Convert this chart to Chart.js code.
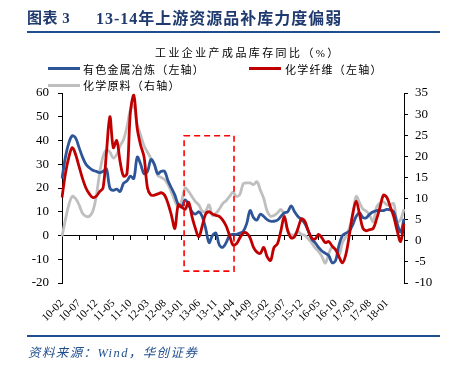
<!DOCTYPE html>
<html>
<head>
<meta charset="utf-8">
<script src="https://cdn.jsdelivr.net/npm/chart.js@4.4.1/dist/chart.umd.min.js"></script>
<style>
  body { margin: 0; background: #fff; }
  #wrap { position: relative; width: 455px; height: 365px; overflow: hidden; }
  #chart { position: absolute; left: 0; top: 0; }
  .txt { position: absolute; white-space: nowrap; font-family: "Liberation Serif", "Noto Sans CJK SC", serif; }
  .rule { position: absolute; left: 27px; width: 413px; background: #1F4E8C; }
  .swatch { position: absolute; width: 32px; height: 3px; }
</style>
</head>
<body>
<div id="wrap">
  <canvas id="chart" width="455" height="365"></canvas>
  <div class="txt" style="left:27px;top:6px;font-size:15px;font-weight:bold;color:#1F3A6E;letter-spacing:0.5px;">图表 3</div>
  <div class="txt" style="left:96px;top:5px;font-size:16px;font-weight:bold;color:#1F3A6E;letter-spacing:1px;">13-14年上游资源品补库力度偏弱</div>
  <div class="rule" style="top:31px;height:2px;"></div>
  <div class="txt" style="left:155px;top:44px;font-size:11px;letter-spacing:2.4px;color:#000;">工业企业产成品库存同比（%）</div>
  <div class="swatch" style="left:48px;top:67px;background:#2E5597;"></div>
  <div class="txt" style="left:83px;top:61px;font-size:11px;letter-spacing:1.2px;">有色金属冶炼（左轴）</div>
  <div class="swatch" style="left:249px;top:67px;background:#C00000;"></div>
  <div class="txt" style="left:285px;top:61px;font-size:11px;letter-spacing:1.2px;">化学纤维（左轴）</div>
  <div class="swatch" style="left:48px;top:84px;background:#BFBFBF;"></div>
  <div class="txt" style="left:83px;top:77px;font-size:11px;letter-spacing:1.2px;">化学原料（右轴）</div>
  <div class="rule" style="top:335px;height:1.5px;"></div>
  <div class="txt" style="left:28px;top:342px;font-size:12.5px;font-style:italic;color:#1F4E8C;letter-spacing:1.4px;">资料来源：Wind，华创证券</div>
</div>
<script>
// monthly categories, 2010-02 .. 2018-06
const months = [];
for (let i = 0; i < 101; i++) {
  const d = new Date(2010, 1 + i, 1);
  months.push(String(d.getFullYear()).slice(2) + '-' + String(d.getMonth() + 1).padStart(2, '0'));
}

// 有色金属冶炼 (left axis)
const metals = [24, 33, 39, 42, 41, 37, 33, 30, 28.5, 27.5, 27, 26.5, 27, 28, 20, 19, 19.5, 18.5, 22, 23,
  25, 24, 33, 30, 26, 27, 32, 30, 26, 27, 27, 23, 20, 17, 13, 12, 15, 13, 10, 9,
  10, 8, 3, -3, 0, 1, -4, -5, -3, 0,
  0.5, 0.5, 1, 1.8, 5, 10.5, 7.5, 6.5, 9, 8, 6.7, 6, 6, 6.5, 8, 9.5, 10, 12.5, 10, 8,
  6.7, 5, 2, -1.5, -3, -5, -6.5, -7.5, -8.5, -11.5, -10.5, -4, 0, 1, 1.8, 4.5, 8, 9.5, 7.5, 7.5,
  9, 10, 10.5, 10.5, 10.5, 11, 10.8, 10, 5, 1.5, 7];

// 化学纤维 (left axis)
const fibre = [16, 26, 33, 37, 34, 29, 24, 20, 17.5, 16, 16.5, 18.5, 20, 35, 50, 37, 40, 31, 25, 26,
  52, 59, 45, 38, 33, 20, 17, 17, 17.5, 18, 17, 13.5, 8.5, 3, 13, 12, 11, 14, 8, 3,
  -0.5, 4, 9, 10, 9, 8.5, 8, 6.5, 4, 0,
  -4, -3.5, -1, 1, 1, -1, -5, -7, -7.5, -5, -9, -10.5, -5, -3.5, 2, 8, 2, -1, -0.5, 3,
  7, 6, 2, -1, -1.5, 0.5, -1, -3, -2.5, -4.5, -6, -9, -11.5, -8, 0, 9, 14.5, 9, 3, 2,
  2.5, 3, 7, 12, 17, 16, 12, 8, 2, -2.5, 5];

// 化学原料 (right axis)
const chem = [1, 5, 8.5, 10.5, 10, 8.5, 6.5, 5.8, 5.8, 7, 10.5, 16, 20, 21.5, 21, 19.6, 20.4, 22.5, 24, 27,
  31, 32, 27.5, 25, 22.5, 21, 19.5, 18, 15.5, 15, 14.5, 13.3, 11.5, 9.5, 8, 9.5, 12.5, 11.7, 10.5, 9.3,
  8.5, 7, 7, 8.5, 6, 6.5, 7.5, 8.8, 9.5, 10.5,
  11.5, 10.5, 11, 13.5, 13.7, 13.7, 13.3, 14, 12, 10, 7, 5.8, 6, 6.6, 7.4, 6, 2.5, 1.4, 1.5, 2.2,
  1.5, 1.3, 0.4, -0.5, -1.7, -2.5, -3.7, -5.3, -3, -1.5, -2, -3.5, -0.5, 1, 3, 6, 10.5, 9, 7.5, 7,
  6, 4.5, 8, 9, 9.2, 8.5, 8.5, 8.8, 4.5, 5, 7.5];

const leftAxis = { min: -20, max: 60, step: 10 };
const rightAxis = { min: -10, max: 35, step: 5 };
const labelEvery = 5;
const lastLabel = '18-01';

// highlighted period 13-01 .. 14-04 (category index, left-axis value)
const boxFrom = 35.7, boxTo = 50.3, boxTop = 42, boxBottom = -15;

const tickFont = { family: 'Liberation Serif', size: 13 };
const lastLabelIdx = months.indexOf(lastLabel);

const boxPlugin = {
  id: 'highlightBox',
  afterDatasetsDraw(chart) {
    const { ctx, scales: { x, y } } = chart;
    const x1 = x.getPixelForValue(boxFrom), x2 = x.getPixelForValue(boxTo);
    const y1 = y.getPixelForValue(boxTop), y2 = y.getPixelForValue(boxBottom);
    ctx.save();
    ctx.strokeStyle = '#FF0000';
    ctx.lineWidth = 1.6;
    ctx.setLineDash([6, 4]);
    ctx.strokeRect(x1, y1, x2 - x1, y2 - y1);
    ctx.restore();
  }
};

new Chart(document.getElementById('chart'), {
  type: 'line',
  data: {
    labels: months,
    datasets: [
      { label: '有色金属冶炼（左轴）', data: metals, borderColor: '#2E5597', yAxisID: 'y', xAxisID: 'x', order: 1 },
      { label: '化学纤维（左轴）', data: fibre, borderColor: '#C00000', yAxisID: 'y', xAxisID: 'x', order: 0 },
      { label: '化学原料（右轴）', data: chem, borderColor: '#BFBFBF', yAxisID: 'y2', xAxisID: 'x', order: 2 },
    ],
  },
  options: {
    responsive: false,
    animation: false,
    devicePixelRatio: 1,
    layout: { padding: { top: 93, left: 0, right: 0, bottom: 0 } },
    elements: {
      line: { borderWidth: 2.8, tension: 0.35, fill: false },
      point: { radius: 0 },
    },
    plugins: { legend: { display: false }, tooltip: { enabled: false } },
    scales: {
      x: {
        type: 'category',
        position: 'bottom',
        offset: false,
        border: { display: false },
        grid: { display: false },
        ticks: {
          autoSkip: false, minRotation: 45, maxRotation: 45, padding: 6,
          color: '#000', font: { family: 'Liberation Serif', size: 11 },
          callback: (v, i) => (i % labelEvery === 0 && i <= lastLabelIdx ? months[i] : ''),
        },
        afterFit: s => { s.height = 82; },
      },
      x0: {
        type: 'category',
        axis: 'x',
        position: { y: 0 },
        offset: false,
        border: { display: true, color: '#000', width: 1 },
        grid: {
          drawOnChartArea: false, drawTicks: true, tickLength: 4,
          tickColor: c => (c.index % labelEvery === 0 ? '#000' : 'rgba(0,0,0,0)'),
          color: c => (c.index % labelEvery === 0 ? '#000' : 'rgba(0,0,0,0)'),
        },
        ticks: { display: false, autoSkip: false },
      },
      y: {
        position: 'left',
        min: leftAxis.min, max: leftAxis.max,
        border: { display: true, color: '#000', width: 1 },
        grid: { drawOnChartArea: false, tickLength: 4, tickColor: '#000' },
        ticks: { stepSize: leftAxis.step, color: '#000', font: tickFont, padding: 9 },
        afterFit: s => { s.width = 62; },
      },
      y2: {
        position: 'right',
        min: rightAxis.min, max: rightAxis.max,
        border: { display: true, color: '#000', width: 1 },
        grid: { drawOnChartArea: false, tickLength: 4, tickColor: '#000' },
        ticks: { stepSize: rightAxis.step, color: '#000', font: tickFont, padding: 7 },
        afterFit: s => { s.width = 51; },
      },
    },
  },
  plugins: [boxPlugin],
});
</script>
</body>
</html>
